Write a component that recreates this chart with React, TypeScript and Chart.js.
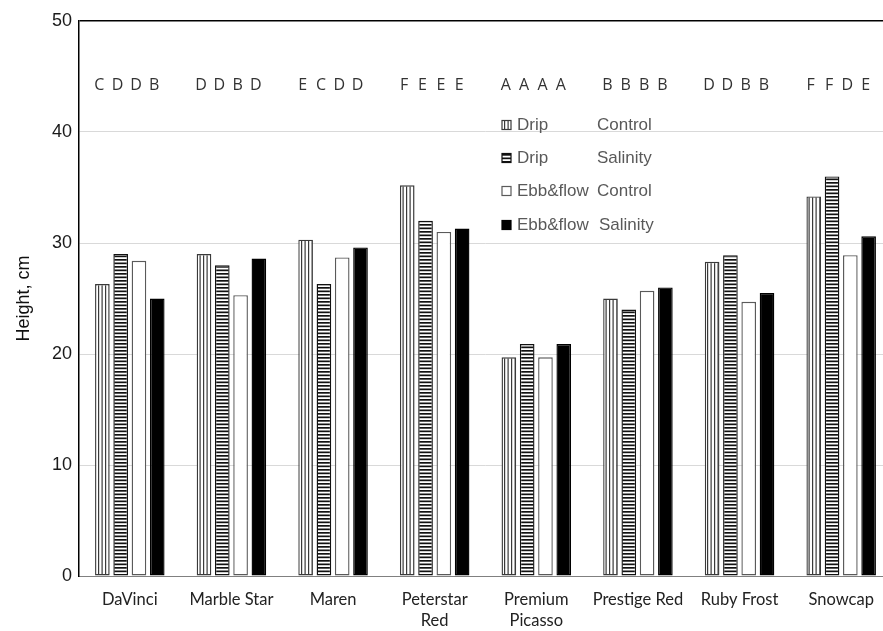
import React, { useEffect, useRef } from "react";
import { Chart, registerables } from "chart.js";

Chart.register(...registerables);

const categories = [
  "DaVinci",
  "Marble Star",
  "Maren",
  ["Peterstar", "Red"],
  ["Premium", "Picasso"],
  "Prestige Red",
  "Ruby Frost",
  "Snowcap",
];

const dripControl = [26.3, 29.0, 30.3, 35.2, 19.7, 25.0, 28.3, 34.2];
const dripSalinity = [29.0, 28.0, 26.3, 32.0, 20.9, 24.0, 28.9, 36.0];
const ebbControl = [28.4, 25.3, 28.7, 31.0, 19.7, 25.7, 24.7, 28.9];
const ebbSalinity = [25.0, 28.6, 29.6, 31.3, 20.9, 26.0, 25.5, 30.6];

const groupLetters = ["CDDB", "DDBD", "ECDD", "FEEE", "AAAA", "BBBB", "DDBB", "FFDE"];

const seriesSystem = ["Drip", "Drip", "Ebb&flow", "Ebb&flow"];
const seriesTreatment = ["Control", "Salinity", "Control", "Salinity"];

const yTicks = [0, 10, 20, 30, 40, 50];
const letterLevel = 44.2;

function makeVerticalPattern(): CanvasPattern | string {
  const c = document.createElement("canvas");
  c.width = 7;
  c.height = 7;
  const g = c.getContext("2d");
  if (!g) return "#fff";
  g.fillStyle = "#fff";
  g.fillRect(0, 0, 7, 7);
  g.fillStyle = "#3a3a3a";
  g.fillRect(0, 0, 1.2, 7);
  g.fillRect(3.5, 0, 1.2, 7);
  return g.createPattern(c, "repeat") || "#fff";
}

function makeHorizontalPattern(): CanvasPattern | string {
  const c = document.createElement("canvas");
  c.width = 7;
  c.height = 7;
  const g = c.getContext("2d");
  if (!g) return "#888";
  g.fillStyle = "#fff";
  g.fillRect(0, 0, 7, 7);
  g.fillStyle = "#111";
  g.fillRect(0, 0, 7, 1.7);
  g.fillRect(0, 3.5, 7, 1.7);
  return g.createPattern(c, "repeat") || "#888";
}

export default function App() {
  const ref = useRef<HTMLCanvasElement | null>(null);

  useEffect(() => {
    const canvas = ref.current;
    if (!canvas) return;
    const vPat = makeVerticalPattern();
    const hPat = makeHorizontalPattern();

    const fills = [vPat, hPat, "#ffffff", "#000000"];
    const borders = ["#3a3a3a", "#111111", "#5a5a5a", "#000000"];

    const lettersPlugin = {
      id: "letters",
      afterDatasetsDraw(chart: any) {
        const ctx = chart.ctx;
        const y = chart.scales.y.getPixelForValue(letterLevel);
        ctx.save();
        ctx.font = "16px 'Liberation Sans Narrow', 'Open Sans', sans-serif";
        ctx.fillStyle = "#333";
        ctx.textAlign = "center";
        ctx.textBaseline = "middle";
        groupLetters.forEach((letters, i) => {
          for (let d = 0; d < 4; d++) {
            const el = chart.getDatasetMeta(d).data[i];
            if (el) ctx.fillText(letters[d], el.x - 3, y);
          }
        });
        ctx.restore();
      },
    };

    const legendPlugin = {
      id: "customLegend",
      afterDatasetsDraw(chart: any) {
        const ctx = chart.ctx;
        const boxX = 502;
        const sysX = 517;
        const trtX = 597;
        const rowY = [125, 158, 191, 225];
        ctx.save();
        ctx.font = "17px 'Liberation Sans', Arial, sans-serif";
        ctx.textBaseline = "middle";
        ctx.textAlign = "left";
        for (let d = 0; d < 4; d++) {
          const y = rowY[d];
          ctx.fillStyle = fills[d] as any;
          ctx.fillRect(boxX, y - 4.5, 9, 9);
          ctx.strokeStyle = borders[d];
          ctx.lineWidth = 1.2;
          ctx.strokeRect(boxX, y - 4.5, 9, 9);
          ctx.fillStyle = "#595959";
          ctx.fillText(seriesSystem[d], sysX, y);
          ctx.fillText(seriesTreatment[d], trtX + (d === 3 ? 2 : 0), y);
        }
        ctx.restore();
      },
    };

    const seriesData = [dripControl, dripSalinity, ebbControl, ebbSalinity];

    const chart = new Chart(canvas, {
      type: "bar",
      data: {
        labels: categories as any,
        datasets: seriesData.map((vals, d) => ({
          label: seriesSystem[d] + " " + seriesTreatment[d],
          data: vals,
          backgroundColor: fills[d] as any,
          borderColor: borders[d],
          borderWidth: 1.4,
          borderSkipped: false,
          categoryPercentage: 0.72,
          barPercentage: 0.8,
        })),
      },
      options: {
        responsive: false,
        animation: false,
        devicePixelRatio: 1,
        layout: { padding: { top: 21, right: 0, left: 0, bottom: 0 } },
        plugins: {
          legend: { display: false },
          tooltip: { enabled: false },
        },
        scales: {
          x: {
            grid: { display: false, drawTicks: false },
            border: { color: "#808080", width: 1 },
            ticks: {
              padding: 14,
              color: "#222",
              maxRotation: 0,
              autoSkip: false,
              font: { family: "Lato, 'Open Sans', sans-serif", size: 16.5, lineHeight: 1.22 },
            },
            afterFit: (scale: any) => {
              scale.height = 55;
            },
          },
          y: {
            min: 0,
            max: 50,
            afterBuildTicks: (scale: any) => {
              scale.ticks = yTicks.map((v) => ({ value: v }));
            },
            grid: {
              drawTicks: false,
              color: (c: any) =>
                c.tick && c.tick.value === 50 ? "#000" : c.tick && c.tick.value === 0 ? "#808080" : "#d9d9d9",
              lineWidth: (c: any) => (c.tick && c.tick.value === 50 ? 1.5 : 1),
            },
            border: { color: "#000", width: 1.5 },
            ticks: {
              padding: 7,
              color: "#1a1a1a",
              font: { family: "'Liberation Sans', Arial, sans-serif", size: 18 },
            },
            title: {
              display: true,
              text: "Height, cm",
              color: "#111",
              padding: { top: 13, bottom: 0 },
              font: { family: "'Liberation Sans', Arial, sans-serif", size: 18 },
            },
            afterFit: (scale: any) => {
              scale.width = 79;
            },
          },
        },
      },
      plugins: [lettersPlugin, legendPlugin],
    });

    return () => chart.destroy();
  }, []);

  return (
    <div
      style={{
        position: "absolute",
        left: 0,
        top: 0,
        width: 883,
        height: 631,
        overflow: "hidden",
        background: "#fff",
      }}
    >
      <canvas ref={ref} width={892} height={631} style={{ display: "block" }} />
    </div>
  );
}
